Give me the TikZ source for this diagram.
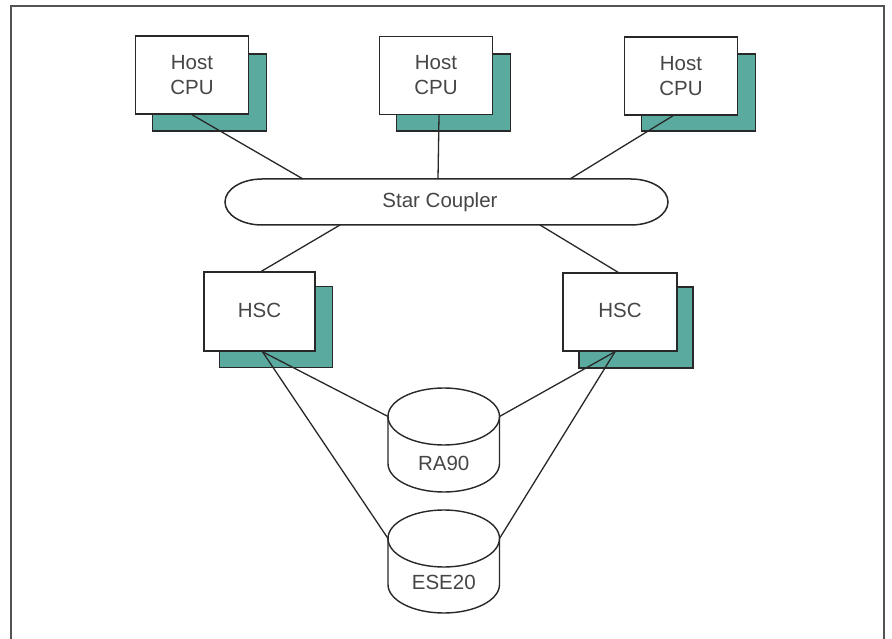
\documentclass[tikz,border=0pt]{standalone}
\usepackage{fontspec}
\setmainfont{Liberation Sans}
\definecolor{shade}{RGB}{90,170,160}
\definecolor{ink}{RGB}{40,40,40}
\definecolor{txt}{RGB}{70,70,70}
\begin{document}
\begin{tikzpicture}[x=1pt,y=-1pt,
  box/.style={draw=ink,line width=1.5pt,fill=white,minimum width=113pt,minimum height=78pt,inner sep=0pt,align=center,text=txt,font=\fontsize{20.5}{25}\selectfont},
  shadowbox/.style={draw=ink,line width=1.5pt,fill=shade,minimum width=114pt,minimum height=77pt,inner sep=0pt},
  link/.style={draw=ink,line width=1.3pt},
  lbl/.style={text=txt,font=\fontsize{20.5}{25}\selectfont,inner sep=0pt}]
\useasboundingbox (0,0) rectangle (892,639);
% frame
\draw[draw=ink!80,line width=1.8pt] (11,639) -- (11,6) -- (884,6) -- (884,639);
% host shadows and fronts
\node[shadowbox] (s1) at (209.5,92.5) {};
\node[shadowbox] (s2) at (453.5,92.5) {};
\node[shadowbox] (s3) at (698.5,92.5) {};
\node[box] (h1) at (192,75) {Host\\CPU};
\node[box] (h2) at (436,75.5) {Host\\CPU};
\node[box] (h3) at (681,76) {Host\\CPU};
% star coupler
\draw[draw=ink,line width=1.5pt,fill=white]
  (262,179) -- (631,179) arc (-90:90:37 and 23) -- (262,225) arc (90:270:37 and 23) -- cycle;
\node[lbl,minimum width=443pt,minimum height=46pt] (sc) at (440,202) {Star Coupler};
\coordinate (sc1) at (303,179);
\coordinate (sc2) at (438,179);
\coordinate (sc3) at (570,179);
\coordinate (sc4) at (340,225);
\coordinate (sc5) at (540,225);
% HSC
\node[shadowbox,minimum width=113pt,minimum height=81pt] (t1) at (276,327) {};
\node[shadowbox,minimum width=114pt,minimum height=81pt] (t2) at (636,327.5) {};
\node[box,minimum width=111pt,minimum height=79pt] (c1) at (259.5,311.5) {\raisebox{3pt}{HSC}};
\node[box,minimum width=114pt,minimum height=78pt] (c2) at (620,312) {\raisebox{3pt}{HSC}};
% disks
\coordinate (raL) at (388,416.5);
\coordinate (raR) at (499.5,416.5);
\coordinate (esL) at (388,538.5);
\coordinate (esR) at (499.5,538.5);
\draw[draw=ink,line width=1.4pt,fill=white]
  (raL) -- (388,463.5) arc (180:0:55.75 and 28.5) -- (raR);
\draw[draw=ink,line width=1.4pt] (443.75,416.5) ellipse (55.75 and 28.5);
\node[lbl] (ra) at (443.75,463) {RA90};
\draw[draw=ink,line width=1.4pt,fill=white]
  (esL) -- (388,584.5) arc (180:0:55.75 and 28.5) -- (esR);
\draw[draw=ink,line width=1.4pt] (443.75,538.5) ellipse (55.75 and 28.5);
\node[lbl] (es) at (443.75,582) {ESE20};
% connectors
\draw[link] (h1.south) -- (sc1);
\draw[link] ([xshift=3pt]h2.south) -- (sc2);
\draw[link] ([xshift=-8pt]h3.south) -- (sc3);
\draw[link] (sc4) -- ([xshift=2pt]c1.north);
\draw[link] (sc5) -- ([xshift=-2pt]c2.north);
\draw[link] ([xshift=3pt]c1.south) -- (raL);
\draw[link] ([xshift=3pt]c1.south) -- (esL);
\draw[link] ([xshift=-5pt]c2.south) -- (raR);
\draw[link] ([xshift=-5pt]c2.south) -- (esR);
\end{tikzpicture}
\end{document}
